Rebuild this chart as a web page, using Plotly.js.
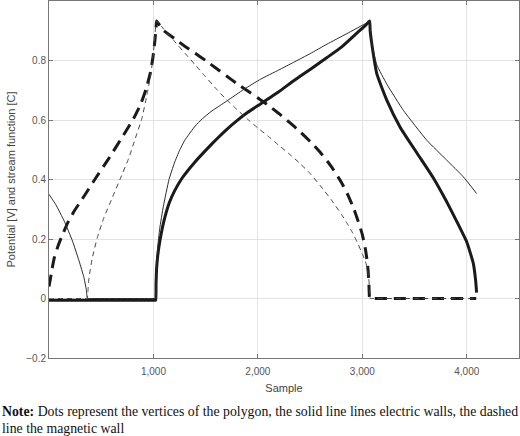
<!DOCTYPE html>
<html>
<head>
<meta charset="utf-8">
<script src="https://cdn.plot.ly/plotly-3.0.1.min.js"></script>
<style>
  html, body { margin: 0; padding: 0; background: #fff; }
  #chart { width: 520px; height: 436px; }
</style>
</head>
<body>
<div id="chart"></div>
<script>
// electric walls (solid), bold curve
const solidBoldX = [0, 20, 1016, 1022, 1025, 1030, 1040, 1055, 1070, 1100, 1150, 1200, 1275, 1400, 1500, 1611, 1700, 1800, 1900, 2025, 2200, 2343, 2500, 2662, 2800, 2950, 3030, 3070,
    3075, 3091, 3139, 3235, 3362, 3521, 3680, 3800, 3900, 4000, 4062, 4085, 4094];
const solidBoldY = [-0.006, -0.006, -0.006, -0.006, 0.05, 0.1, 0.14, 0.18, 0.21, 0.26, 0.32, 0.36, 0.405, 0.46, 0.498, 0.538, 0.568, 0.598, 0.625, 0.654, 0.695, 0.732, 0.77, 0.81, 0.845, 0.893, 0.918, 0.933,
    0.9, 0.855, 0.755, 0.666, 0.576, 0.49, 0.405, 0.33, 0.262, 0.19, 0.119, 0.06, 0.02];

// electric walls (solid), thin curve
const solidThinX = [0, 66, 146, 225, 288, 335, 358, 367, 375, 1016, 1022, 1025, 1030, 1040, 1060, 1095, 1149, 1200, 1250, 1300, 1400, 1468, 1550, 1703, 1866, 2025, 2200, 2343, 2500, 2662, 2850, 3044, 3070,
    3080, 3100, 3139, 3235, 3394, 3617, 3808, 3967, 4094];
const solidThinY = [0.35, 0.315, 0.26, 0.193, 0.126, 0.07, 0.028, 0, 0, 0, 0, 0.06, 0.12, 0.17, 0.235, 0.31, 0.4, 0.455, 0.498, 0.532, 0.58, 0.604, 0.628, 0.664, 0.703, 0.737, 0.768, 0.794, 0.823, 0.855, 0.89, 0.927, 0.933,
    0.885, 0.84, 0.785, 0.72, 0.632, 0.532, 0.465, 0.409, 0.353];

// magnetic wall (dashed), bold curve
const dashBoldX = [0, 10, 30, 51, 90, 130, 180, 240, 300, 351, 446, 573, 700, 810, 880, 930, 968, 995, 1012, 1025, 1030,
    1060, 1100, 1200, 1300, 1400, 1500, 1600, 1700, 1800, 1900, 2000, 2100, 2200, 2300, 2400, 2500, 2600, 2700, 2800, 2870, 2920, 2960, 3000, 3030, 3050, 3062, 3070, 3078, 4080, 4090];
const dashBoldY = [0.04, 0.06, 0.1, 0.137, 0.18, 0.215, 0.255, 0.293, 0.325, 0.352, 0.404, 0.471, 0.542, 0.605, 0.655, 0.705, 0.755, 0.81, 0.86, 0.91, 0.933,
    0.918, 0.9, 0.874, 0.848, 0.824, 0.8, 0.774, 0.748, 0.722, 0.698, 0.674, 0.649, 0.622, 0.593, 0.562, 0.528, 0.49, 0.445, 0.39, 0.342, 0.3, 0.26, 0.215, 0.165, 0.115, 0.06, 0, 0, 0, 0];

// magnetic wall (dashed), thin curve
const dashThinX = [0, 20, 360, 367, 375, 383, 415, 462, 525, 605, 684, 763, 826, 889, 937, 978, 1000, 1022, 1030,
    1100, 1200, 1300, 1400, 1500, 1600, 1700, 1800, 1900, 2000, 2100, 2200, 2300, 2400, 2500, 2600, 2700, 2800, 2850, 2900, 2950, 3000, 3030, 3050, 3062, 3070, 3075, 3083, 4080, 4090];
const dashThinY = [0, 0, 0, 0, 0.035, 0.07, 0.137, 0.204, 0.271, 0.338, 0.404, 0.471, 0.538, 0.605, 0.683, 0.761, 0.828, 0.917, 0.933,
    0.905, 0.865, 0.825, 0.785, 0.745, 0.705, 0.668, 0.635, 0.603, 0.573, 0.545, 0.515, 0.486, 0.455, 0.42, 0.378, 0.333, 0.283, 0.255, 0.225, 0.19, 0.15, 0.125, 0.095, 0.065, 0.03, 0, 0, 0, 0];

const xTicks = [1000, 2000, 3000, 4000];
const yTicks = [-0.2, 0, 0.2, 0.4, 0.6, 0.8];

const data = [
    { x: solidBoldX, y: solidBoldY, mode: 'lines', line: { color: '#1a1a1a', width: 3, shape: 'spline', smoothing: 0.4 } },
    { x: dashBoldX, y: dashBoldY, mode: 'lines', line: { color: '#1a1a1a', width: 3, dash: '12px,7px', shape: 'spline', smoothing: 0.4 } },
    { x: solidThinX, y: solidThinY, mode: 'lines', line: { color: '#2a2a2a', width: 1, shape: 'spline', smoothing: 0.4 } },
    { x: dashThinX, y: dashThinY, mode: 'lines', line: { color: '#444', width: 1, dash: '5px,4px', shape: 'spline', smoothing: 0.4 } }
];

const axisCommon = {
    showline: true,
    linecolor: '#777',
    linewidth: 1,
    mirror: 'ticks',
    ticks: 'inside',
    ticklen: 4,
    tickcolor: '#777',
    gridcolor: '#e3e3e3',
    gridwidth: 1,
    zeroline: false,
    tickfont: { family: 'Liberation Sans, Arial', size: 10, color: '#555' }
};

const noteFont = { family: 'Liberation Serif, Times New Roman', size: 13.8, color: '#111' };

const layout = {
    width: 520,
    height: 436,
    showlegend: false,
    margin: { l: 49, r: 1, t: 1, b: 78, pad: 0 },
    paper_bgcolor: '#fff',
    plot_bgcolor: '#fff',
    xaxis: Object.assign({}, axisCommon, {
        range: [0, 4500],
        tickvals: xTicks,
        tickformat: ',d',
        ticklabelstandoff: 4,
        title: { text: 'Sample', font: { family: 'Liberation Sans, Arial', size: 11, color: '#444' }, standoff: 8 }
    }),
    yaxis: Object.assign({}, axisCommon, {
        range: [-0.2, 1.0],
        tickvals: yTicks,
        title: { text: 'Potential [V] and stream function [C]', font: { family: 'Liberation Sans, Arial', size: 11, color: '#444' }, standoff: 8 }
    }),
    annotations: [{
        xref: 'paper', yref: 'paper',
        x: -49 / 470, y: (358 - 411.7) / 357,
        xanchor: 'left', yanchor: 'middle', align: 'left',
        showarrow: false,
        text: '<b>Note:</b> Dots represent the vertices of the polygon, the solid line lines electric walls, the dashed',
        font: noteFont
    }, {
        xref: 'paper', yref: 'paper',
        x: -49 / 470, y: (358 - 428.3) / 357,
        xanchor: 'left', yanchor: 'middle', align: 'left',
        showarrow: false,
        text: 'line the magnetic wall',
        font: noteFont
    }]
};

Plotly.newPlot('chart', data, layout, { displayModeBar: false });
</script>
</body>
</html>
